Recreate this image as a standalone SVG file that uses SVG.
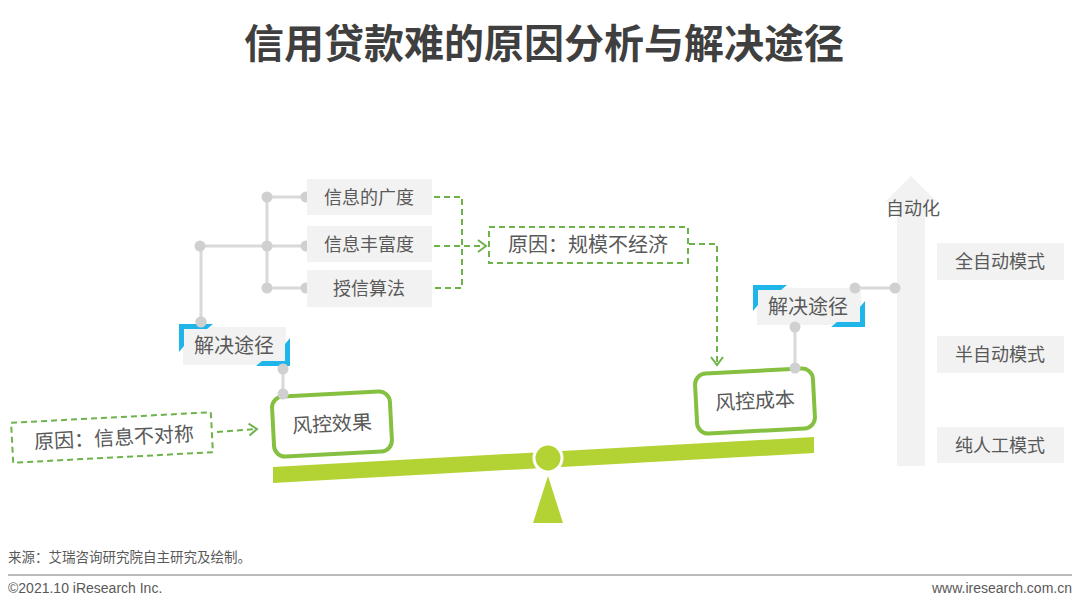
<svg xmlns="http://www.w3.org/2000/svg" width="1080" height="609" viewBox="0 0 1080 609">
<defs>
<style>
.t{font-family:"Noto Sans CJK SC","Noto Sans",sans-serif;fill:#595959;}
.l18{font-size:18px;text-anchor:middle;}
.l20{font-size:20px;text-anchor:middle;}
.gbox{fill:#f2f2f2;}
.gline{stroke:#d9d9d9;stroke-width:3;fill:none;}
.dot{fill:#d0d0d0;}
.dash{stroke:#6db34a;stroke-width:2;stroke-dasharray:6 4;fill:none;}
.gr{fill:#ffffff;stroke:#86c041;stroke-width:4;}
.blue{fill:#1fb5e9;}
.foot{font-family:"Liberation Sans",Arial,sans-serif;fill:#595959;font-size:14px;}
</style>
<marker id="chev" markerUnits="userSpaceOnUse" markerWidth="14" markerHeight="16" refX="10" refY="7" orient="auto" viewBox="0 0 14 14">
<path d="M2,1 L10,7 L2,13" fill="none" stroke="#6db34a" stroke-width="2"/>
</marker>
</defs>
<rect width="1080" height="609" fill="#ffffff"/>
<text x="544" y="58" font-family="'Noto Sans CJK SC','Noto Sans',sans-serif" font-size="40" font-weight="700" fill="#3f3f3f" text-anchor="middle">信用贷款难的原因分析与解决途径</text>

<g id="axis">
<polygon points="911,176 937,202 925,202 925,466 897,466 897,202 885,202" fill="#f2f2f2"/>
<text class="t l18" x="913" y="215">自动化</text>
</g>

<g id="connectors">
<path class="gline" d="M201,322 L201,246 L267,246 M267,197 L267,288 M267,197 L306,197 M267,246 L306,246 M267,288 L306,288 M283,369 L283,393 M855,288 L895,288 M795,327 L795,367"/>
<path class="dash" d="M434,197 L462,197 L462,288 L434,288"/>
<path class="dash" d="M434,246 L486,246" marker-end="url(#chev)"/>
<path class="dash" d="M689,244 L717,244 L717,365" marker-end="url(#chev)"/>
<path class="dash" d="M217,432 L257,429" marker-end="url(#chev)"/>
<circle class="dot" cx="201" cy="322" r="5.5"/>
<circle class="dot" cx="200" cy="246" r="5.5"/>
<circle class="dot" cx="267" cy="197" r="5.5"/>
<circle class="dot" cx="267" cy="246" r="5.5"/>
<circle class="dot" cx="267" cy="288" r="5.5"/>
<circle class="dot" cx="306" cy="197" r="5.5"/>
<circle class="dot" cx="306" cy="246" r="5.5"/>
<circle class="dot" cx="306" cy="288" r="5.5"/>
<circle class="dot" cx="895" cy="288" r="5.5"/>
</g>

<g id="n-breadth">
<rect class="gbox" x="307" y="179" width="125" height="36"/>
<text class="t l18" x="369" y="203.5">信息的广度</text>
</g>
<g id="n-richness">
<rect class="gbox" x="307" y="226" width="125" height="36"/>
<text class="t l18" x="369" y="250.5">信息丰富度</text>
</g>
<g id="n-algo">
<rect class="gbox" x="307" y="270" width="125" height="37"/>
<text class="t l18" x="369" y="295">授信算法</text>
</g>

<g id="n-scale">
<rect class="dash" x="489" y="227" width="199" height="36"/>
<text class="t l20" x="588" y="252">原因：规模不经济</text>
</g>

<g id="n-sol-left">
<rect class="gbox" x="183" y="327" width="103" height="38"/>
<polygon class="blue" points="179,324 213,324 207,329 184,329 184,346 179,352"/>
<polygon class="blue" points="290,366 256,366 262,361 285,361 285,344 290,338"/>
<text class="t l20" x="234" y="353">解决途径</text>
<circle class="dot" cx="201" cy="322" r="5.5"/>
<circle class="dot" cx="283" cy="369" r="5.5"/>
</g>

<g id="n-sol-right">
<rect class="gbox" x="757" y="288" width="104" height="37"/>
<polygon class="blue" points="753,285 787,285 781,290 758,290 758,305 753,311"/>
<polygon class="blue" points="865,327 831,327 837,322 860,322 860,307 865,301"/>
<text class="t l20" x="808" y="314">解决途径</text>
<circle class="dot" cx="855" cy="288" r="5.5"/>
<circle class="dot" cx="795" cy="327" r="5.5"/>
</g>

<g id="scene">
<polygon points="273,467 814,437 814,453 273,483" fill="#b3d335"/>
<polygon points="548,476 533,523 563,523" fill="#b3d335"/>
<circle cx="548" cy="458" r="14" fill="#b3d335" stroke="#ffffff" stroke-width="3"/>
</g>

<g id="n-effect" transform="rotate(-3 332 424)">
<rect class="gr" x="273" y="394" width="118" height="60" rx="11"/>
<text class="t l20" x="332" y="431">风控效果</text>
</g>
<circle class="dot" cx="283" cy="394" r="5.5"/>

<g id="n-cost" transform="rotate(-3 755 401)">
<rect class="gr" x="696" y="371" width="118" height="60" rx="11"/>
<text class="t l20" x="755" y="408">风控成本</text>
</g>
<circle class="dot" cx="795" cy="368" r="5.5"/>

<g id="n-asym" transform="rotate(-3 112 437.5)">
<rect class="dash" x="12" y="417.5" width="200" height="40"/>
<text class="t l20" x="114" y="445">原因：信息不对称</text>
</g>

<g id="n-full">
<rect class="gbox" x="937" y="243" width="127" height="37"/>
<text class="t l18" x="1000" y="268">全自动模式</text>
</g>
<g id="n-semi">
<rect class="gbox" x="937" y="336" width="127" height="37"/>
<text class="t l18" x="1000" y="361">半自动模式</text>
</g>
<g id="n-manual">
<rect class="gbox" x="937" y="427" width="127" height="36"/>
<text class="t l18" x="1000" y="451.5">纯人工模式</text>
</g>

<g id="footer">
<text x="8" y="562" font-family="'Noto Sans CJK SC','Noto Sans',sans-serif" font-size="13.5" fill="#595959">来源：艾瑞咨询研究院自主研究及绘制。</text>
<line x1="8" y1="575" x2="1072" y2="575" stroke="#a6a6a6" stroke-width="1.5"/>
<text class="foot" x="8" y="593">©2021.10 iResearch Inc.</text>
<text class="foot" x="1072" y="593" text-anchor="end">www.iresearch.com.cn</text>
</g>
</svg>
